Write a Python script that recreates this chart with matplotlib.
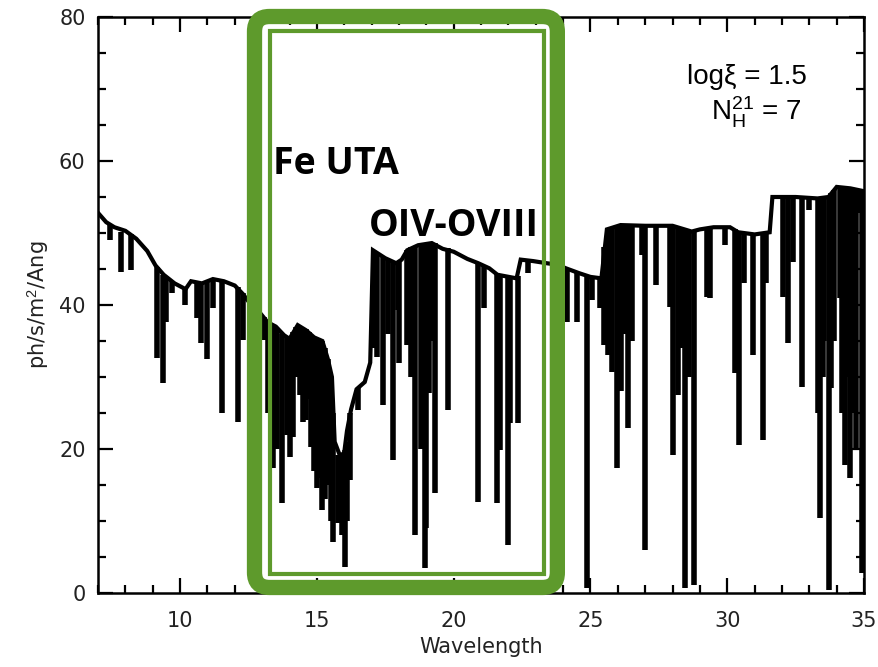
import matplotlib
matplotlib.use("Agg")
import matplotlib.pyplot as plt
from matplotlib.patches import FancyBboxPatch, Rectangle
from matplotlib.ticker import MultipleLocator

# continuum envelope of the model spectrum (wavelength, flux)
cont_wave = [7.0, 7.3, 7.6, 8.0, 8.4, 8.8, 9.1, 9.4, 9.8, 10.2, 10.4, 10.8, 11.2, 11.6, 12.0,
             12.3, 12.5, 12.9, 13.2, 13.5, 13.8, 14.0, 14.3, 14.6, 14.9, 15.2, 15.4, 15.55,
             15.65, 15.85, 16.0, 16.1, 16.25, 16.45, 16.75, 16.95, 17.05, 17.5, 17.9, 18.1,
             18.3, 18.7, 19.2, 19.6, 20.0, 20.5, 20.9, 21.3, 21.6, 22.3, 22.45, 22.9, 23.4,
             23.8, 24.1, 24.6, 25.0, 25.4, 25.6, 26.1, 27.0, 28.0, 28.7, 29.0, 29.5, 30.1,
             30.4, 31.0, 31.55, 31.65, 32.5, 33.3, 33.7, 34.0, 34.5, 35.0]
cont_flux = [52.8, 51.5, 50.8, 50.3, 49.2, 47.5, 45.5, 44.2, 43.0, 42.2, 43.3, 43.0, 43.6, 43.3,
             42.7, 41.5, 40.5, 39.0, 37.6, 37.0, 35.8, 35.3, 37.2, 36.5, 35.5, 35.0, 32.5, 30.0,
             21.0, 19.0, 19.5, 22.5, 25.5, 28.3, 29.3, 32.0, 47.6, 46.5, 45.8, 46.3, 47.6, 48.3,
             48.6, 47.8, 47.4, 46.4, 45.8, 45.1, 44.2, 43.7, 46.3, 46.1, 45.8, 45.6, 45.1, 44.4,
             43.9, 43.7, 50.5, 51.1, 51.0, 51.0, 50.2, 50.5, 50.8, 50.8, 50.1, 49.8, 50.1, 55.0,
             55.0, 54.8, 55.0, 56.4, 56.2, 55.8]

# absorption lines: wavelength, flux at top, flux at line bottom
line_wave = [7.44, 7.84, 8.2, 9.16, 9.38, 9.5, 9.7, 10.18, 10.6, 10.76, 11.0, 11.2, 11.53, 12.1,
             12.3, 13.07, 13.2, 13.4, 13.55, 13.73, 13.9, 14.0, 14.13, 14.25, 14.4, 14.5, 14.6,
             14.7, 14.8, 14.9, 15.0, 15.1, 15.2, 15.3, 15.4, 15.5, 15.6, 15.77, 15.9, 16.03,
             16.1, 16.2, 16.5, 17.1, 17.2, 17.4, 17.6, 17.8, 17.96, 18.0, 18.3, 18.45, 18.6,
             18.8, 18.95, 19.0, 19.1, 19.2, 19.3, 19.8, 20.9, 21.1, 21.58, 21.7, 22.0, 22.05,
             22.35, 22.7, 24.15, 24.5, 24.87, 25.05, 25.35, 25.5, 25.65, 25.8, 25.97, 26.1,
             26.25, 26.37, 26.5, 26.9, 27.0, 27.4, 27.9, 28.0, 28.2, 28.3, 28.45, 28.6, 28.78,
             29.26, 29.37, 29.9, 30.3, 30.43, 30.6, 30.94, 31.3, 31.4, 32.04, 32.22, 32.4,
             32.73, 33.0, 33.3, 33.4, 33.5, 33.55, 33.72, 33.8, 33.9, 34.12, 34.2, 34.3, 34.4,
             34.48, 34.55, 34.65, 34.7, 34.8, 34.92]
line_top = [51.3, 50.2, 49.8, 45.3, 44.2, 43.9, 43.3, 42.3, 43.1, 43.0, 43.3, 43.6, 43.3, 42.5,
            41.6, 38.3, 37.5, 37.2, 36.8, 36.0, 35.5, 35.3, 36.3, 37.0, 37.0, 36.8, 36.6, 36.2,
            35.8, 35.5, 35.3, 35.0, 35.0, 34.0, 32.5, 30.0, 25.0, 19.2, 19.0, 19.8, 21.0, 25.0,
            28.5, 47.5, 47.2, 46.7, 46.3, 46.0, 45.8, 46.0, 47.6, 48.0, 48.0, 48.4, 48.5, 48.6,
            48.6, 48.6, 48.6, 47.9, 45.8, 45.5, 44.3, 44.1, 43.9, 43.9, 44.0, 46.2, 45.0, 44.5,
            44.0, 43.8, 43.7, 48.0, 50.5, 50.9, 51.0, 51.0, 51.0, 51.1, 51.1, 51.0, 51.0, 51.0,
            51.0, 51.0, 50.8, 50.6, 50.5, 50.3, 50.2, 50.6, 50.8, 50.8, 50.5, 50.3, 50.0, 49.9,
            50.0, 50.0, 55.0, 55.0, 55.0, 55.0, 55.0, 55.0, 54.8, 55.0, 55.0, 55.0, 55.5, 56.0,
            56.4, 56.4, 56.3, 56.3, 56.2, 56.2, 56.1, 56.0, 56.0, 55.9]
line_bottom = [49.0, 44.6, 44.9, 32.6, 29.2, 37.6, 41.7, 40.0, 38.2, 34.7, 32.5, 39.6, 25.0,
               23.75, 35.1, 35.1, 25.0, 17.4, 20.0, 12.5, 22.0, 18.9, 21.7, 30.0, 27.5, 23.75,
               24.0, 27.0, 20.3, 17.0, 14.6, 16.0, 11.5, 13.0, 15.0, 10.0, 7.1, 9.7, 8.0, 3.6,
               10.0, 15.7, 25.4, 34.0, 32.8, 26.1, 36.0, 18.5, 39.3, 32.0, 34.4, 30.0, 8.0, 20.0,
               3.5, 9.0, 27.8, 35.0, 13.9, 25.4, 12.6, 39.6, 12.5, 19.9, 6.7, 23.6, 23.6, 44.4,
               37.6, 37.6, 0.7, 40.7, 39.6, 34.4, 33.0, 30.7, 17.4, 28.0, 36.0, 22.9, 35.0, 46.9,
               6.0, 42.8, 39.7, 19.2, 27.5, 34.0, 0.7, 30.0, 1.1, 41.1, 41.0, 48.3, 30.6, 20.6,
               43.0, 33.0, 21.2, 43.0, 41.1, 34.7, 46.0, 28.6, 53.2, 25.0, 10.4, 30.0, 35.0, 0.4,
               28.5, 35.0, 41.0, 25.0, 17.8, 30.0, 16.0, 25.0, 25.0, 20.0, 52.8, 2.8]

green = "#5e9a2c"

plt.rcParams["font.family"] = ["DejaVu Sans"]
plt.rcParams["mathtext.fontset"] = "custom"
plt.rcParams["mathtext.rm"] = "Liberation Sans"
plt.rcParams["mathtext.it"] = "Liberation Sans:italic"

fig = plt.figure(figsize=(8.79, 6.67), dpi=100)
ax = fig.add_axes([0.1115, 0.111, 0.8715, 0.8635])

ax.plot(cont_wave, cont_flux, color="black", lw=3.0, solid_joinstyle="miter")
ax.vlines(line_wave, line_bottom, line_top, color="black", lw=4.0)

ax.set_xlim(7, 35)
ax.set_ylim(0, 80)
ax.xaxis.set_major_locator(MultipleLocator(5))
ax.xaxis.set_minor_locator(MultipleLocator(1))
ax.yaxis.set_major_locator(MultipleLocator(20))
ax.yaxis.set_minor_locator(MultipleLocator(5))
ax.tick_params(which="both", direction="in", top=True, right=True, width=1.6,
               labelsize=15, labelcolor="#222222")
ax.tick_params(axis="x", which="major", pad=13)
ax.tick_params(axis="y", which="major", pad=9)
ax.tick_params(which="major", length=11)
ax.tick_params(which="minor", length=6)
for s in ax.spines.values():
    s.set_linewidth(1.8)

ax.set_xlabel("Wavelength", fontsize=15, color="#222222", labelpad=4)
ax.set_ylabel("ph/s/m$^2$/Ang", fontsize=15, color="#222222", labelpad=6)

ax.text(0.925, 0.896, "log\u03be = 1.5", transform=ax.transAxes, ha="right", va="center",
        fontsize=20, family="Liberation Sans")
ax.text(0.918, 0.835, r"N$_\mathrm{H}^{21}$ = 7", transform=ax.transAxes, ha="right",
        va="center", fontsize=20, family="Liberation Sans")

# highlight box around the Fe UTA / oxygen region
outer = FancyBboxPatch((12.72, 0.76), 23.79 - 12.72, 80.07 - 0.76,
                       boxstyle="round,pad=0,rounding_size=0.55", mutation_aspect=3.8,
                       fill=False, edgecolor=green, lw=11, clip_on=False, zorder=5)
ax.add_patch(outer)
inner = Rectangle((13.27, 2.57), 23.30 - 13.27, 78.06 - 2.57, fill=False, edgecolor=green,
                  lw=3, clip_on=False, zorder=5)
ax.add_patch(inner)

ax.text(13.4, 58.2, "Fe UTA", fontsize=27, fontweight="bold", family="Open Sans",
        ha="left", va="baseline", zorder=6)
ax.text(16.9, 49.6, "OIV-OVIII", fontsize=27, fontweight="bold", family="Open Sans",
        ha="left", va="baseline", zorder=6)

fig.savefig("out.png", dpi=100)
